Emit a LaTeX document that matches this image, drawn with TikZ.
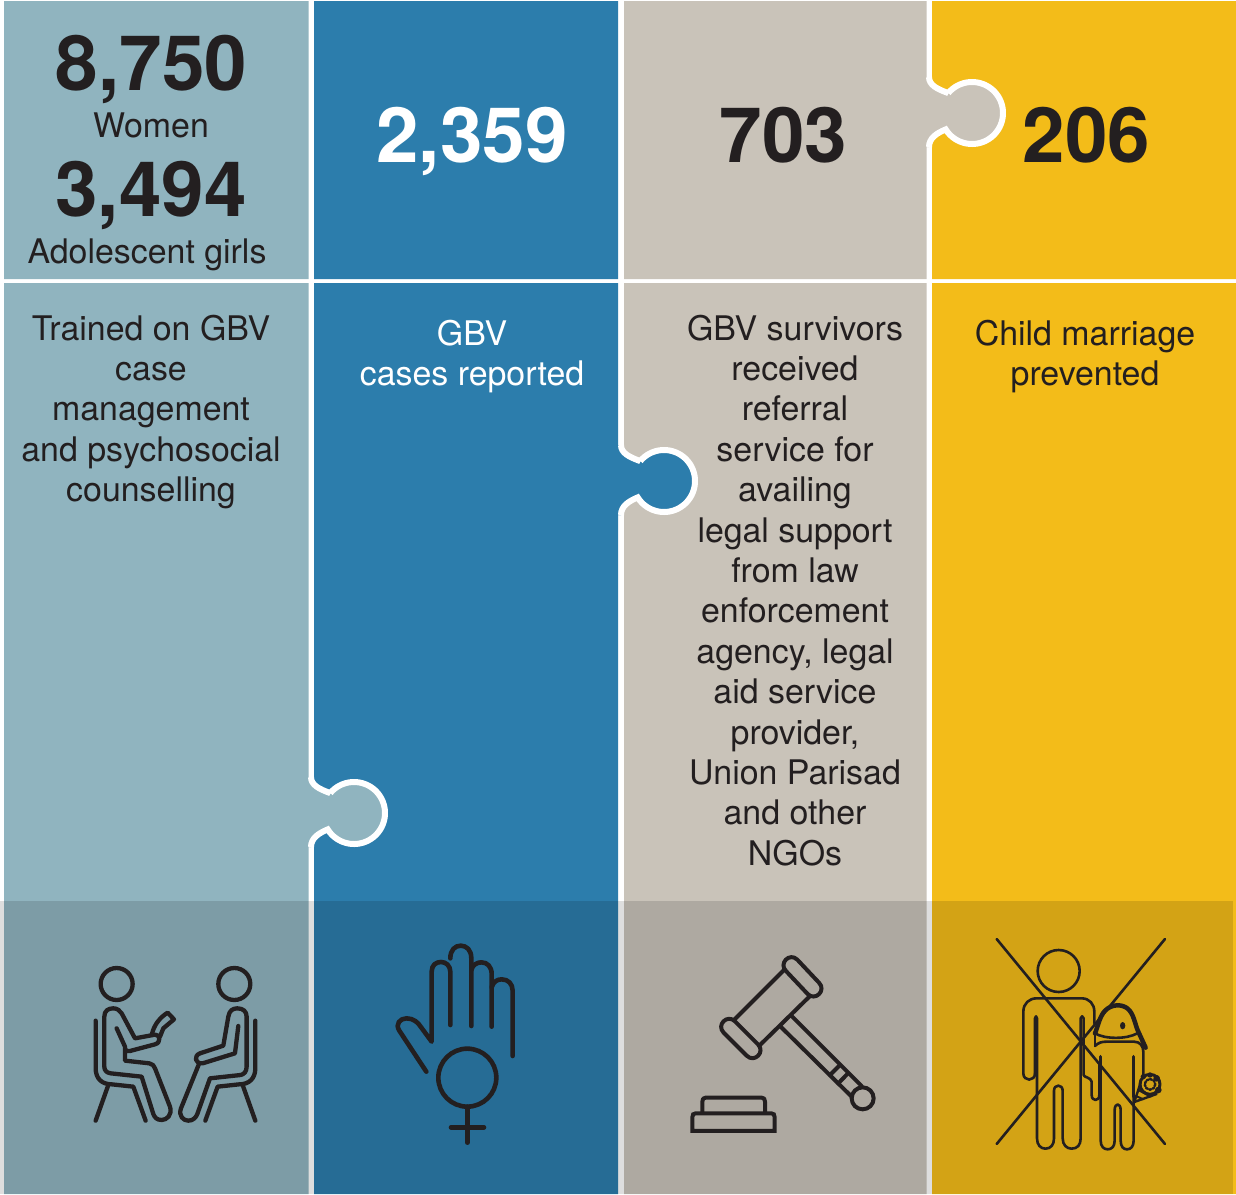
\documentclass[tikz,border=0pt]{standalone}
\usepackage{fontspec}
\setmainfont{TeX Gyre Heros}
\definecolor{inkc}{HTML}{231F20}
\definecolor{colA}{HTML}{90B4BF}
\definecolor{colB}{HTML}{2C7DAC}
\definecolor{colC}{HTML}{C9C3B9}
\definecolor{colD}{HTML}{F3BC19}
\tikzset{
  bignum/.style={anchor=base,inner sep=0pt,font=\bfseries\fontsize{76.4}{80}\selectfont,text=inkc},
  smalltext/.style={inner sep=0pt,font=\fontsize{33.9}{40.4}\selectfont,text=inkc,align=center},
  icon/.style={draw=inkc,line cap=round,line join=round,line width=#1},
  icon/.default=4pt
}
\newcommand{\puzzletab}[3]{%
  \fill[#3] (#1-8,#2-36) -- (#1,#2-36) .. controls (#1,#2-28) and (#1+8,#2-24) .. (#1+19.3,#2-19.9)
    -- plot[domain=-140:148,samples=70] ({#1+43+31*cos(\x)},{#2+31*sin(\x)})
    .. controls (#1+8,#2+20) and (#1,#2+25) .. (#1,#2+34) -- (#1-8,#2+34) -- cycle;
  \draw[white,line width=6pt] (#1,#2-36) .. controls (#1,#2-28) and (#1+8,#2-24) .. (#1+19.3,#2-19.9)
    -- plot[domain=-140:148,samples=70] ({#1+43+31*cos(\x)},{#2+31*sin(\x)})
    .. controls (#1+8,#2+20) and (#1,#2+25) .. (#1,#2+34);
}
\begin{document}
\begin{tikzpicture}[x=1pt,y=-1pt]
\useasboundingbox (0,0) rectangle (1236,1194);
\fill[white] (0,0) rectangle (1236,1194);
% panels
\fill[colA] (4,1) rectangle (308.5,279) (4,283) rectangle (308.5,1194);
\fill[colB] (314,1) rectangle (618,279) (314,283) rectangle (618,1194);
\fill[colC] (624,1) rectangle (926.5,279) (624,283) rectangle (926.5,1194);
\fill[colD] (932,1) rectangle (1236,279) (932,283) rectangle (1236,1194);
% puzzle tabs
\puzzletab{311}{813}{colA}
\puzzletab{621}{481}{colB}
\puzzletab{929}{113}{colC}
% shaded band
\fill[black,opacity=0.13] (0,901) rectangle (1233,1194);
% numbers
\node[bignum] (n1) at (151.5,90) {8,750};
\node[smalltext,anchor=base] (t1) at (151,137) {Women};
\node[bignum] (n2) at (151,216) {3,494};
\node[smalltext,anchor=base] (t2) at (147,263) {Adolescent girls};
\node[bignum,text=white] (n3) at (472,162) {2,359};
\node[bignum] (n4) at (783.5,162) {703};
\node[bignum] (n5) at (1086.5,162) {206};
% descriptions
\node[smalltext,anchor=north] (d1) at (151,314.5) {Trained on GBV\\case\\management\\and psychosocial\\counselling};
\node[smalltext,anchor=north,text=white] (d2) at (472,319.5) {GBV\\cases reported};
\node[smalltext,anchor=north] (d3) at (795,314.5) {GBV survivors\\received\\referral\\service for\\availing\\legal support\\from law\\enforcement\\agency, legal\\aid service\\provider,\\Union Parisad\\and other\\NGOs};
\node[smalltext,anchor=north] (d4) at (1085,319.5) {Child marriage\\prevented};
% icon: counselling
\begin{scope}[shift={(0,900)},x=0.3333pt,y=-0.3333pt,icon=4.3pt]
\draw (350,252) circle[radius=48];
\draw (350,385) -- (375,440) -- (375,482) -- (448,490) .. controls (458,491) and (462,498) .. (465,505) -- (510,620)
  .. controls (518,645) and (500,660) .. (485,660) .. controls (470,660) and (464,652) .. (460,642) -- (425,530) -- (332,520)
  .. controls (320,518) and (313,512) .. (313,500) -- (313,350) .. controls (313,332) and (325,325) .. (340,325)
  .. controls (352,325) and (360,332) .. (365,340) -- (405,415) -- (465,404) .. controls (480,402) and (485,428) .. (465,433) -- (390,453) .. controls (380,455) and (375,450) .. (375,445);
\draw (456,402) .. controls (462,375) and (480,352) .. (503,338) -- (522,358) -- (490,385) -- (480,410);
\draw (287,362) -- (287,505) .. controls (287,535) and (305,553) .. (335,553) -- (400,560) -- (437,662);
\draw (325,555) -- (287,662);
\draw (703,252) circle[radius=48];
\draw (715,378) -- (705,460) -- (608,490) .. controls (585,492) and (580,468) .. (600,460) -- (670,437) -- (685,350)
  .. controls (688,332) and (698,325) .. (712,325) .. controls (730,325) and (740,335) .. (740,350) -- (740,500)
  .. controls (740,515) and (732,523) .. (722,525) -- (630,535) -- (592,642) .. controls (588,652) and (580,662) .. (565,662)
  .. controls (550,662) and (535,648) .. (543,625) -- (597,492);
\draw (766,362) -- (766,505) .. controls (766,535) and (748,553) .. (718,553) -- (653,560) -- (616,662);
\draw (728,555) -- (766,662);
\end{scope}
% icon: hand with female sign
\begin{scope}[shift={(340,900)},x=0.3333pt,y=-0.3333pt,icon=4.6pt]
\draw (259,515) -- (178,392) .. controls (165,372) and (180,355) .. (200,355) .. controls (220,355) and (235,368) .. (242,380) -- (275,425) -- (275,215)
  .. controls (275,195) and (288,186) .. (303,186) .. controls (318,186) and (331,197) .. (331,215) -- (331,375);
\draw (331,175) .. controls (331,150) and (345,137) .. (362,137) .. controls (380,137) and (394,150) .. (394,175) -- (394,378);
\draw (394,210) .. controls (398,195) and (410,187) .. (424,187) .. controls (442,187) and (455,200) .. (455,222) -- (455,380);
\draw (455,262) .. controls (460,245) and (472,238) .. (485,238) .. controls (505,238) and (518,252) .. (518,272) -- (518,468);
\draw (382,533) circle[radius=87];
\draw (382,620) -- (382,728);
\draw (333,682) -- (432,682);
\end{scope}
% icon: gavel
\begin{scope}[shift={(660,920)},x=0.3333pt,y=-0.3333pt,icon=4pt]
\draw (412,119) -- (477,188) .. controls (500,211) and (466,245) .. (443,222) -- (378,153) .. controls (355,130) and (389,96) .. (412,119) -- cycle;
\draw (225,304) -- (294,373) .. controls (317,396) and (283,430) .. (260,407) -- (191,338) .. controls (168,315) and (202,281) .. (225,304) -- cycle;
\draw (222,300) -- (372,150);
\draw (300,375) -- (450,228);
\draw (395,288) -- (605,498);
\draw (362,320) -- (575,530);
\draw (538,437) -- (510,465);
\draw (562,462) -- (535,490);
\draw (608,535) circle[radius=33];
\draw (127,578) -- (127,545) .. controls (127,537) and (130,533) .. (137,533) -- (305,533) .. controls (312,533) and (315,537) .. (315,545) -- (315,578);
\draw[line cap=butt,line join=miter] (97,633) -- (97,592) .. controls (97,584) and (100,580) .. (107,580) -- (334,580) .. controls (341,580) and (344,584) .. (344,592) -- (344,633) -- cycle;
\end{scope}
% icon: no child marriage
\begin{scope}[shift={(980,920)},x=0.3333pt,y=-0.3333pt,icon=2.6pt]
\draw (50,57) -- (555,672);
\draw (555,57) -- (50,672);
\draw (236,153) circle[radius=63];
\draw (165,460) .. controls (165,485) and (130,485) .. (130,460) -- (130,275) .. controls (130,250) and (148,235) .. (170,235) -- (305,235)
  .. controls (328,235) and (343,252) .. (343,275) -- (343,310);
\draw (165,460) -- (165,295) .. controls (165,287) and (171,287) .. (171,295) -- (171,655) .. controls (171,675) and (182,686) .. (196,686)
  .. controls (212,686) and (222,675) .. (222,655) -- (222,512) .. controls (222,492) and (248,492) .. (248,512) -- (248,655)
  .. controls (248,675) and (260,686) .. (275,686) .. controls (292,686) and (302,675) .. (302,655) -- (302,295)
  .. controls (302,287) and (311,287) .. (311,295) -- (311,465) .. controls (311,472) and (333,472) .. (335,485) -- (335,525)
  .. controls (335,545) and (358,545) .. (358,525) -- (358,430);
\draw[line width=4.5pt] (345,340) .. controls (352,325) and (358,290) .. (375,272) .. controls (395,252) and (425,252) .. (442,265) .. controls (462,280) and (465,315) .. (475,335) -- (497,383);
\draw (345,340) .. controls (375,358) and (440,358) .. (472,340);
\draw (345,378) -- (345,345);
\draw (345,378) .. controls (355,368) and (365,365) .. (380,365) -- (462,365) .. controls (480,365) and (490,378) .. (490,395) -- (490,470);
\draw[line width=3.6pt] (362,410) -- (362,500);
\draw (362,500) -- (362,662) .. controls (362,680) and (372,688) .. (383,688) .. controls (395,688) and (404,680) .. (404,662) -- (404,570)
  .. controls (404,548) and (422,548) .. (422,570) -- (422,662) .. controls (422,680) and (430,688) .. (441,688) .. controls (452,688) and (461,680) .. (461,662) -- (461,530);
\draw[line width=3.6pt] (461,410) -- (461,530);
\fill[inkc] (428,317) ellipse[x radius=8,y radius=11];
\draw[line width=2.4pt] (482,488) -- (463,546) -- (530,522);
\draw[line width=2pt] (475,510) -- (512,530) (468,528) -- (490,538);
\draw[line width=3pt] (510,493) circle[radius=30];
\draw[line width=2.4pt,dash pattern=on 2pt off 1.5pt] (510,493) circle[radius=16];
\fill[inkc] (530,475) circle[radius=10] (490,470) circle[radius=8] (535,510) circle[radius=10] (510,465) circle[radius=8];
\end{scope}
\end{tikzpicture}
\end{document}
